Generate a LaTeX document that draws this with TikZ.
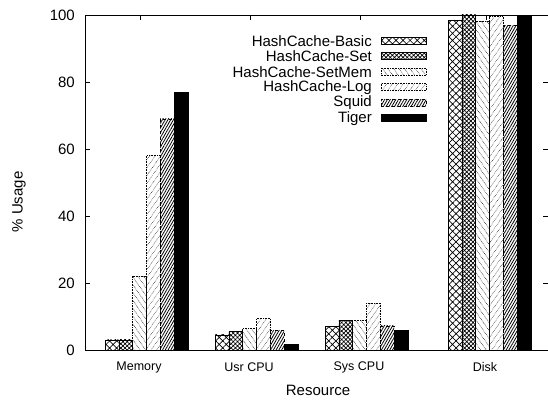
\documentclass[tikz,border=0pt]{standalone}
\usepackage{fontspec}
\setmainfont{Liberation Sans}
\usetikzlibrary{patterns.meta}
\begin{document}
\begin{tikzpicture}[x=1pt,y=1pt,
  barline/.style={line width=0.6pt},
  pbasic/.style={barline, draw=black, pattern={Hatch[angle=45,distance=5pt,line width=0.7pt]}},
  pset/.style={barline, draw=black, pattern={Hatch[angle=45,distance=3pt,line width=0.7pt]}},
  psetmem/.style={barline, draw=black, densely dotted, pattern={Lines[angle=-55,distance=4.5pt,line width=0.5pt]}},
  plog/.style={barline, draw=black, densely dotted, pattern={Lines[angle=55,distance=4.5pt,line width=0.4pt]}},
  psquid/.style={barline, draw=black, dashed, pattern={Lines[angle=60,distance=2.4pt,line width=0.8pt]}},
  ptiger/.style={barline, draw=black, fill=black},
  lab/.style={font=\fontsize{15}{15}\selectfont},
  xlab/.style={font=\fontsize{12.5}{12.5}\selectfont},
  axis/.style={line width=0.7pt},
]
\useasboundingbox (0,0) rectangle (548,401);
% bars
\foreach \x/\v in {105/3, 215/4.5, 325/7, 448/98.5}
  \draw[pbasic] (\x,51) rectangle ++(13.8,\v*3.35);
\foreach \x/\v in {105/3, 215/5.5, 325/8.8, 448/100}
  \draw[pset] (\x+13.8,51) rectangle ++(13.8,\v*3.35);
\foreach \x/\v in {105/22, 215/6.5, 325/8.8, 448/98}
  \draw[psetmem] (\x+27.6,51) rectangle ++(13.8,\v*3.35);
\foreach \x/\v in {105/58, 215/9.5, 325/14, 448/99.5}
  \draw[plog] (\x+41.4,51) rectangle ++(13.8,\v*3.35);
\foreach \x/\v in {105/69, 215/5.8, 325/7.2, 448/97}
  \draw[psquid] (\x+55.2,51) rectangle ++(13.8,\v*3.35);
\foreach \x/\v in {105/77, 215/1.8, 325/6, 448/100}
  \draw[ptiger] (\x+69,51) rectangle ++(13.8,\v*3.35);
% axes
\draw[axis] (548,386) -- (85,386) -- (85,51) -- (548,51);
\foreach \v in {0,20,...,100} {
  \draw[axis] (85,51+\v*3.35) -- ++(5,0);
  \draw[axis] (548,51+\v*3.35) -- ++(-5,0);
  \node[lab, anchor=east, inner sep=0pt] (yt\v) at (75,51+\v*3.35) {\v};
}
\foreach \x in {140,250,360,486}
  \draw[axis] (\x,386) -- ++(0,-5);
% x labels
\node[xlab] (xm) at (139,34) {Memory};
\node[xlab] (xu) at (249,34) {Usr CPU};
\node[xlab] (xs) at (359,34) {Sys CPU};
\node[xlab] (xd) at (485,34) {Disk};
\node[lab] (xt) at (318,11) {Resource};
\node[lab, rotate=90] (yl) at (19,199) {\% Usage};
% legend
\foreach \y/\t/\s in {360.3/HashCache-Basic/pbasic, 344.8/HashCache-Set/pset, 329.3/HashCache-SetMem/psetmem, 313.8/HashCache-Log/plog, 298.3/Squid/psquid, 282.8/Tiger/ptiger} {
  \node[lab, anchor=east, inner sep=0pt] at (372,\y) {\t};
  \draw[\s] (381,\y-3.5) rectangle (426,\y+3.5);
}
\end{tikzpicture}
\end{document}
